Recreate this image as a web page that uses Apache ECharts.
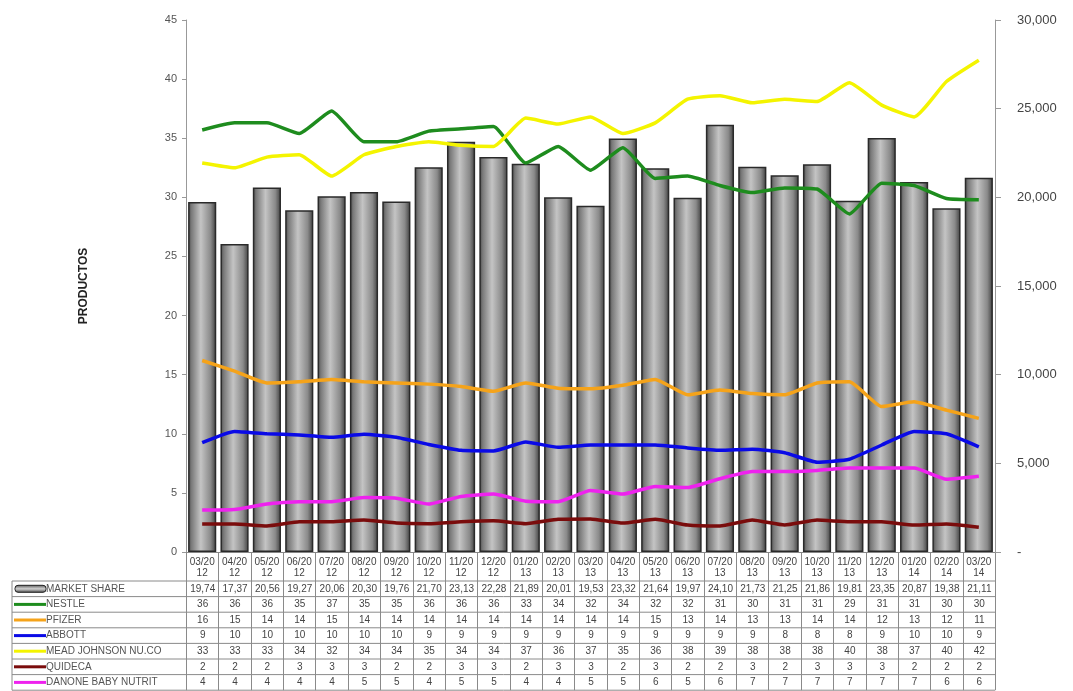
<!DOCTYPE html>
<html>
<head>
<meta charset="utf-8">
<script src="https://cdn.jsdelivr.net/npm/echarts@6/dist/echarts.min.js"></script>
<style>
  html, body { margin: 0; padding: 0; background: #fff; }
  #chart { width: 1073px; height: 691px; }
</style>
</head>
<body>
<div id="chart"></div>
<script>
// Monthly periods
const months = ['03/2012','04/2012','05/2012','06/2012','07/2012','08/2012','09/2012','10/2012','11/2012','12/2012',
  '01/2013','02/2013','03/2013','04/2013','05/2013','06/2013','07/2013','08/2013','09/2013','10/2013','11/2013','12/2013',
  '01/2014','02/2014','03/2014'];

// Market share (bars, right axis)
const marketShare = [19.74,17.37,20.56,19.27,20.06,20.30,19.76,21.70,23.13,22.28,21.89,20.01,19.53,23.32,21.64,19.97,
  24.10,21.73,21.25,21.86,19.81,23.35,20.87,19.38,21.11];

// Product counts per manufacturer (lines, left axis)
const nestle = [35.7,36.3,36.3,35.4,37.3,34.7,34.7,35.6,35.8,36.0,32.9,34.3,32.3,34.2,31.6,31.8,31.0,30.4,30.8,30.7,28.6,31.2,31.0,29.9,29.8];
const pfizer = [16.2,15.3,14.3,14.4,14.6,14.4,14.3,14.2,14.0,13.6,14.3,13.85,13.8,14.1,14.6,13.3,13.7,13.4,13.3,14.3,14.4,12.3,12.7,12.0,11.3];
const abbott = [9.25,10.2,10.0,9.9,9.7,9.96,9.7,9.1,8.6,8.55,9.3,8.86,9.05,9.05,9.05,8.8,8.6,8.7,8.4,7.6,7.85,9.05,10.2,10.0,8.9];
const meadJohnson = [32.9,32.5,33.4,33.6,31.8,33.6,34.3,34.7,34.4,34.3,36.7,36.2,36.8,35.4,36.3,38.3,38.6,38.0,38.3,38.1,39.7,37.8,36.8,39.8,41.6];
const quideca = [2.37,2.37,2.2,2.55,2.56,2.7,2.45,2.4,2.56,2.65,2.4,2.77,2.8,2.45,2.77,2.28,2.2,2.7,2.28,2.7,2.56,2.56,2.28,2.37,2.1];
const danone = [3.55,3.6,4.06,4.26,4.26,4.6,4.55,4.06,4.7,4.9,4.3,4.26,5.2,4.9,5.55,5.45,6.2,6.8,6.8,6.9,7.1,7.1,7.1,6.15,6.4];

const lineSeries = [
  { name: 'NESTLE', data: nestle, color: '#1e8c1e' },
  { name: 'PFIZER', data: pfizer, color: '#f5a31a' },
  { name: 'ABBOTT', data: abbott, color: '#0a0ae6' },
  { name: 'MEAD JOHNSON NU.CO', data: meadJohnson, color: '#f4f400' },
  { name: 'QUIDECA', data: quideca, color: '#7a0c0c' },
  { name: 'DANONE BABY NUTRIT', data: danone, color: '#ee22ee' }
];

const leftTicks = { min: 0, max: 45, interval: 5 };
const rightTicks = { min: 0, max: 30, interval: 5 };

const fmtComma = (v, d) => v.toFixed(d).replace('.', ',');

const chart = echarts.init(document.getElementById('chart'), null, { renderer: 'canvas' });

const barGradient = new echarts.graphic.LinearGradient(0, 0, 1, 0, [
  { offset: 0, color: '#4a4a4a' },
  { offset: 0.12, color: '#7a7a7a' },
  { offset: 0.45, color: '#c4c4c4' },
  { offset: 0.8, color: '#8a8a8a' },
  { offset: 1, color: '#3e3e3e' }
]);

const option = {
  animation: false,
  backgroundColor: '#ffffff',
  grid: { left: 186, right: 78, top: 20, bottom: 139, containLabel: false },
  xAxis: {
    type: 'category',
    data: months,
    axisLine: { show: true, lineStyle: { color: '#888', width: 1 } },
    axisTick: { show: false },
    axisLabel: {
      interval: 0,
      margin: 5,
      fontFamily: 'Liberation Sans, Arial, sans-serif',
      fontSize: 10,
      lineHeight: 11,
      color: '#444',
      formatter: v => v.slice(0, 5) + '\n' + v.slice(5)
    }
  },
  yAxis: [
    {
      type: 'value',
      min: leftTicks.min, max: leftTicks.max, interval: leftTicks.interval,
      name: 'PRODUCTOS',
      nameLocation: 'middle',
      nameGap: 96,
      nameTextStyle: { fontFamily: 'Liberation Sans, Arial, sans-serif', fontSize: 12, fontWeight: 'bold', color: '#222' },
      axisLine: { show: true, lineStyle: { color: '#999' } },
      axisTick: { show: true, length: 4, lineStyle: { color: '#999' } },
      axisLabel: { margin: 9, fontFamily: 'Liberation Sans, Arial, sans-serif', fontSize: 11, color: '#555' },
      splitLine: { show: false }
    },
    {
      type: 'value',
      min: rightTicks.min, max: rightTicks.max, interval: rightTicks.interval,
      position: 'right',
      axisLine: { show: true, lineStyle: { color: '#999' } },
      axisTick: { show: true, length: 6, lineStyle: { color: '#999' } },
      axisLabel: {
        margin: 22,
        fontFamily: 'Liberation Sans, Arial, sans-serif',
        fontSize: 13,
        color: '#444',
        formatter: v => v === 0 ? '-' : fmtComma(v, 3)
      },
      splitLine: { show: false }
    }
  ],
  series: [
    {
      name: 'MARKET SHARE',
      type: 'bar',
      yAxisIndex: 1,
      data: marketShare,
      barCategoryGap: '13%',
      itemStyle: { color: barGradient, borderColor: '#2a2a2a', borderWidth: 1.5 },
      z: 1
    }
  ].concat(lineSeries.map(s => ({
    name: s.name,
    type: 'line',
    yAxisIndex: 0,
    data: s.data,
    smooth: 0.15,
    showSymbol: false,
    lineStyle: { color: s.color, width: 3.5 },
    itemStyle: { color: s.color },
    z: 3
  })))
};

chart.setOption(option);

// Data table underneath the plot, aligned with the category columns
function buildTable() {
  const n = months.length;
  const x0 = chart.convertToPixel({ xAxisIndex: 0 }, 0);
  const x1 = chart.convertToPixel({ xAxisIndex: 0 }, 1);
  const colW = x1 - x0;
  const gridLeft = x0 - colW / 2;
  const gridRight = gridLeft + colW * n;
  const headTop = 553;
  const rowTop = 581;
  const rowH = 15.6;
  const tableLeft = 12;
  const font = 'Liberation Sans, Arial, sans-serif';
  const lineColor = '#8a8a8a';
  const rows = [
    { name: 'MARKET SHARE', values: marketShare.map(v => fmtComma(v, 2)), bar: true },
  ].concat(lineSeries.map(s => ({ name: s.name, values: s.data.map(v => String(Math.round(v))), color: s.color })));
  const els = [];
  const bottom = rowTop + rowH * rows.length;

  // horizontal rules
  els.push({ type: 'line', shape: { x1: tableLeft, y1: rowTop, x2: gridRight, y2: rowTop }, style: { stroke: lineColor, lineWidth: 1 } });
  for (let r = 1; r <= rows.length; r++) {
    const y = rowTop + rowH * r;
    els.push({ type: 'line', shape: { x1: tableLeft, y1: y, x2: gridRight, y2: y }, style: { stroke: lineColor, lineWidth: 1 } });
  }
  // vertical rules
  els.push({ type: 'line', shape: { x1: tableLeft, y1: rowTop, x2: tableLeft, y2: bottom }, style: { stroke: lineColor, lineWidth: 1 } });
  for (let c = 0; c <= n; c++) {
    const x = Math.round(gridLeft + colW * c) + 0.5;
    els.push({ type: 'line', shape: { x1: x, y1: headTop, x2: x, y2: bottom }, style: { stroke: lineColor, lineWidth: 1 } });
  }

  rows.forEach((row, r) => {
    const cy = rowTop + rowH * r + rowH / 2;
    // legend key
    if (row.bar) {
      els.push({
        type: 'rect',
        shape: { x: 15, y: cy - 3.5, width: 31, height: 7, r: 3 },
        style: {
          fill: new echarts.graphic.LinearGradient(0, 0, 0, 1, [
            { offset: 0, color: '#555' }, { offset: 0.5, color: '#d0d0d0' }, { offset: 1, color: '#444' }
          ]),
          stroke: '#222', lineWidth: 1
        }
      });
    } else {
      els.push({ type: 'line', shape: { x1: 14, y1: cy, x2: 46, y2: cy }, style: { stroke: row.color, lineWidth: 3 } });
    }
    els.push({
      type: 'text',
      x: 46, y: cy,
      style: { text: row.name, font: '10px ' + font, fill: '#555', textVerticalAlign: 'middle', textAlign: 'left' }
    });
    row.values.forEach((v, i) => {
      els.push({
        type: 'text',
        x: gridLeft + colW * i + colW / 2 + 0.5, y: cy,
        style: { text: v, font: '10px ' + font, fill: '#444', textAlign: 'center', textVerticalAlign: 'middle' }
      });
    });
  });

  chart.setOption({ graphic: { elements: els } });
}

buildTable();
</script>
</body>
</html>
